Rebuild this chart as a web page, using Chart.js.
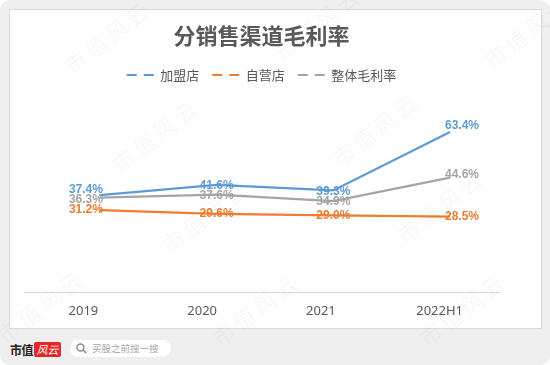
<!DOCTYPE html>
<html>
<head>
<meta charset="utf-8">
<script src="https://cdn.jsdelivr.net/npm/chart.js@4"></script>
<style>
  html, body { margin: 0; padding: 0; background: #ffffff; }
  #page { position: relative; width: 550px; height: 365px; background: #efefef; border-radius: 10px; overflow: hidden; }
  #card { position: absolute; left: 9px; top: 9px; width: 533px; height: 320px; box-sizing: border-box; background: #fff; border: 1px solid #dadada; }
  #card canvas { position: absolute; left: 0; top: 0; }
  #brand { position: absolute; left: 10px; top: 341px; height: 17px; display: flex; align-items: center; }
  #brand .sz { font-family: "Noto Sans CJK SC"; font-weight: bold; font-size: 12px; color: #222; letter-spacing: -0.5px; }
  #brand .logo { margin-left: 1px; width: 27px; height: 15px; background: #e8262a; border-radius: 2px; color: #fff; font-family: "Noto Sans CJK SC"; font-style: italic; font-size: 11px; line-height: 15px; text-align: center; }
  #search { position: absolute; left: 70px; top: 340px; width: 101px; height: 17px; background: #fff; border-radius: 9px; font-family: "Noto Sans CJK SC"; font-size: 9.5px; color: #a8a8a8; line-height: 17px; }
  #search svg { position: absolute; left: 6px; top: 3px; }
  #search span { position: absolute; left: 22px; top: 0; }
  .wm { position: absolute; font-family: "Noto Sans CJK SC"; font-size: 22px; color: rgba(0,0,0,0.032); transform: translate(-50%,-50%) rotate(-38deg); white-space: nowrap; pointer-events: none; letter-spacing: 4px; }
</style>
</head>
<body>
<div id="page">
  <div id="card"><canvas id="c" width="531" height="318"></canvas></div>
  <div id="brand"><span class="sz">市值</span><span class="logo">风云</span></div>
  <div id="search">
    <svg width="11" height="11" viewBox="0 0 11 11"><circle cx="4.5" cy="4.5" r="3.5" fill="none" stroke="#8a8a8a" stroke-width="1.4"/><line x1="7" y1="7" x2="10" y2="10" stroke="#8a8a8a" stroke-width="1.5"/></svg>
    <span>买股之前搜一搜</span>
  </div>
  <div class="wm" style="left:107px;top:36px">市值风云</div>
  <div class="wm" style="left:317px;top:22px">市值风云</div>
  <div class="wm" style="left:527px;top:30px">市值风云</div>
  <div class="wm" style="left:155px;top:134px">市值风云</div>
  <div class="wm" style="left:375px;top:128px">市值风云</div>
  <div class="wm" style="left:205px;top:215px">市值风云</div>
  <div class="wm" style="left:440px;top:205px">市值风云</div>
  <div class="wm" style="left:40px;top:305px">市值风云</div>
  <div class="wm" style="left:255px;top:308px">市值风云</div>
  <div class="wm" style="left:462px;top:308px">市值风云</div>
</div>
<script>
const categories = ["2019", "2020", "2021", "2022H1"];
const franchise = [37.4, 41.6, 39.3, 63.4];   // 加盟店
const selfRun   = [31.2, 29.6, 29.0, 28.5];   // 自营店
const overall   = [36.3, 37.6, 34.9, 44.6];   // 整体毛利率
const seriesNames = ["加盟店", "自营店", "整体毛利率"];
const colors = ["#5B9BD5", "#ED7D31", "#A5A5A5"];

function toPoints(arr) { return arr.map((v, i) => ({ x: i, y: v })); }

const labelPlugin = {
  id: 'pctLabels',
  afterDatasetsDraw(chart) {
    const ctx = chart.ctx;
    ctx.save();
    ctx.font = "bold 12px 'Liberation Sans'";
    ctx.textBaseline = 'middle';
    chart.data.datasets.forEach((ds, di) => {
      const meta = chart.getDatasetMeta(di);
      const last = ds.data.length - 1;
      meta.data.forEach((pt, i) => {
        const txt = ds.data[i].y.toFixed(1) + '%';
        ctx.fillStyle = ds.borderColor;
        let x = pt.x, y = pt.y;
        if (i === 0) { ctx.textAlign = 'right'; x = pt.x + 3; if (di === 0) y -= 5; if (di === 2) y += 2; }
        else if (i === last) { ctx.textAlign = 'left'; x = pt.x - 5; if (di === 0) y -= 6; if (di === 2) y -= 3; }
        else { ctx.textAlign = 'center'; if (di !== 1) y += 1; }
        ctx.fillText(txt, x, y);
      });
    });
    ctx.restore();
  }
};

new Chart(document.getElementById('c'), {
  type: 'line',
  data: {
    labels: categories,
    datasets: [
      { label: seriesNames[0], data: toPoints(franchise), borderColor: colors[0], backgroundColor: colors[0] },
      { label: seriesNames[1], data: toPoints(selfRun),   borderColor: colors[1], backgroundColor: colors[1] },
      { label: seriesNames[2], data: toPoints(overall),   borderColor: colors[2], backgroundColor: colors[2] }
    ].map(d => Object.assign(d, { borderWidth: 2.25, pointRadius: 0, tension: 0, fill: false, xAxisID: 'x', yAxisID: 'y' }))
  },
  options: {
    responsive: false,
    animation: false,
    devicePixelRatio: 1,
    layout: { padding: { left: 14, right: 42, top: 0, bottom: -2 } },
    plugins: {
      title: {
        display: true,
        text: '分销售渠道毛利率',
        color: '#595959',
        font: { family: "'Noto Sans CJK SC'", size: 22, weight: 'bold' },
        padding: { top: 12, bottom: 7 }
      },
      legend: {
        display: true,
        position: 'top',
        labels: {
          color: '#595959',
          font: { family: "'Noto Sans CJK SC'", size: 13 },
          usePointStyle: true,
          pointStyleWidth: 27,
          padding: 13,
          generateLabels(chart) {
            return chart.data.datasets.map((ds, i) => ({
              text: ds.label,
              fillStyle: ds.borderColor,
              strokeStyle: ds.borderColor,
              lineWidth: 2,
              lineDash: [10, 7],
              pointStyle: 'line',
              fontColor: '#595959',
              datasetIndex: i,
              hidden: false
            }));
          }
        }
      },
      tooltip: { enabled: false }
    },
    scales: {
      x: { type: 'linear', display: false, min: -0.651, max: 3.42 },
      xCat: {
        type: 'category',
        position: 'bottom',
        labels: categories,
        offset: true,
        grid: { display: false, drawTicks: false },
        border: { display: true, color: '#d9d9d9', width: 1 },
        ticks: { color: '#595959', font: { family: "'Noto Sans'", size: 13 }, padding: 11 }
      },
      y: { type: 'linear', display: false, min: -2.7, max: 80.1 }
    }
  },
  plugins: [labelPlugin]
});
</script>
</body>
</html>
